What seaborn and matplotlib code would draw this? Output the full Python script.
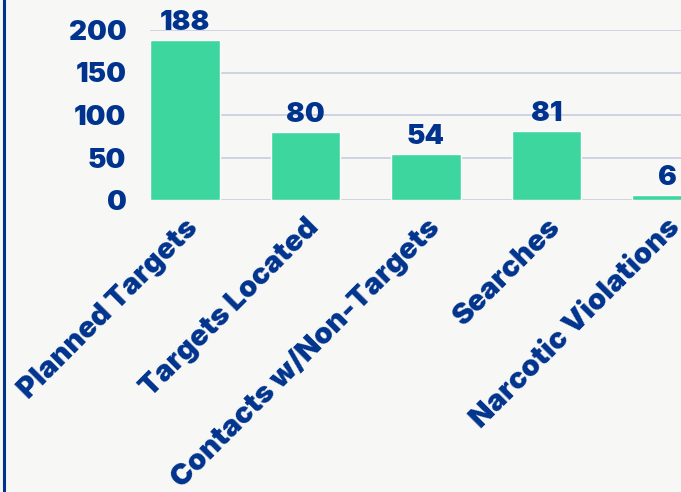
import matplotlib
matplotlib.use("Agg")
import matplotlib.pyplot as plt
import seaborn as sns
import pandas as pd
from matplotlib.lines import Line2D

categories = ["Planned Targets", "Targets Located", "Contacts w/Non-Targets",
              "Searches", "Narcotic Violations"]
counts = [188, 80, 54, 81, 6]
yticks = [0, 50, 100, 150, 200]

bg = "#f7f7f5"
navy = "#00338d"
green = "#3dd69e"

sns.set_theme(style="white")
plt.rcParams['font.family'] = ['Inter', 'DejaVu Sans']

df = pd.DataFrame({"cat": categories, "n": counts})

fig = plt.figure(figsize=(6.81, 4.92), dpi=100, facecolor=bg)
ax = fig.add_axes([150 / 681, 292 / 492, 531 / 681, 170 / 492])
ax.set_facecolor(bg)

sns.barplot(data=df, x="cat", y="n", color=green, width=0.58, saturation=1, ax=ax)

ax.set_ylim(0, 200)
ax.set_xlim(-0.29, 4.116)
ax.set_yticks(yticks)
ax.yaxis.grid(True, color="#c6cedf", linewidth=1.2)
ax.set_axisbelow(True)
for s in ax.spines.values():
    s.set_visible(False)
ax.set_xlabel("")
ax.set_ylabel("")

fs = 20

ax.tick_params(axis="y", length=0, pad=17, labelsize=fs, labelcolor=navy)
ax.tick_params(axis="x", length=0, pad=10, labelsize=21, labelcolor=navy)
for t in ax.get_yticklabels():
    t.set_fontweight("black")
ax.set_xticks(range(len(categories)))
ax.set_xticklabels(categories, rotation=45, ha="right", rotation_mode="anchor",
                   fontweight="black")

for c in ax.containers:
    labels = ax.bar_label(c, padding=3, fontsize=fs, color=navy, fontweight="black")
    for l in labels:
        l.set_clip_on(False)

fig.add_artist(Line2D([4 / 681, 4 / 681], [0, 1], transform=fig.transFigure,
                      color=navy, linewidth=2.2))

fig.savefig("out.png", dpi=100, facecolor=bg)
